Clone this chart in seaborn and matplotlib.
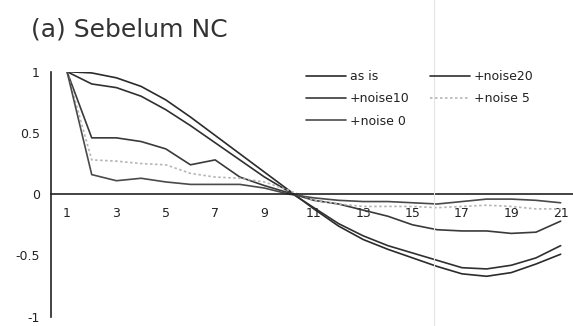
import numpy as np
import pandas as pd
import seaborn as sns
import matplotlib.pyplot as plt
from matplotlib.lines import Line2D
from matplotlib.ticker import FixedLocator

# lag index and the five curves
lags = list(range(1, 22))
as_is = [1.00, 0.99, 0.95, 0.88, 0.77, 0.63, 0.48, 0.33, 0.18, 0.03, -0.12,
         -0.26, -0.37, -0.45, -0.52, -0.59, -0.65, -0.67, -0.64, -0.57, -0.49]
noise20 = [1.00, 0.90, 0.87, 0.80, 0.69, 0.56, 0.42, 0.28, 0.14, 0.02, -0.11,
           -0.24, -0.34, -0.42, -0.48, -0.54, -0.60, -0.61, -0.58, -0.52, -0.42]
noise10 = [1.00, 0.46, 0.46, 0.43, 0.37, 0.24, 0.28, 0.14, 0.07, 0.01, -0.05,
           -0.08, -0.13, -0.18, -0.25, -0.29, -0.30, -0.30, -0.32, -0.31, -0.22]
noise5 = [1.00, 0.28, 0.27, 0.25, 0.24, 0.17, 0.14, 0.13, 0.10, 0.03, -0.05,
          -0.08, -0.10, -0.10, -0.10, -0.11, -0.10, -0.09, -0.10, -0.12, -0.12]
noise0 = [1.00, 0.16, 0.11, 0.13, 0.10, 0.08, 0.08, 0.08, 0.05, 0.00, -0.03,
          -0.05, -0.06, -0.06, -0.07, -0.08, -0.06, -0.04, -0.04, -0.05, -0.07]

names = ["as is", "+noise20", "+noise10", "+noise 5", "+noise 0"]
series = [as_is, noise20, noise10, noise5, noise0]

# long format for seaborn
df = pd.concat([pd.DataFrame({"lag": lags, "r": vals, "series": nm})
                for nm, vals in zip(names, series)], ignore_index=True)

sns.set_style("white")
plt.rcParams["font.family"] = ["DejaVu Sans"]

colors = {"as is": "#2b2b2b", "+noise20": "#303030", "+noise10": "#3a3a3a",
          "+noise 5": "#b5b5b5", "+noise 0": "#4a4a4a"}
dashes = {"as is": "", "+noise20": "", "+noise10": "", "+noise 5": (1.5, 1.5),
          "+noise 0": ""}

fig = plt.figure(figsize=(5.73, 3.26), dpi=100)
ax = fig.add_axes([51 / 573, 9.3 / 326, 1 - 51 / 573, (316.7 - 71.7) / 326])

# faint vertical streak from the scanned page
fig.add_artist(Line2D([434 / 573, 434 / 573], [0, 1], color="#e4e4e4", lw=0.8))

sns.lineplot(data=df, x="lag", y="r", hue="series", style="series",
             palette=colors, dashes=dashes, linewidth=1.2, legend=False, ax=ax)

ax.set_xlim(0.35, 21.5)
ax.set_ylim(-1, 1)
ax.set_xlabel("")
ax.set_ylabel("")
ax.patch.set_alpha(0)

# axis look: left spine, x axis running through zero
for s in ["top", "right"]:
    ax.spines[s].set_visible(False)
ax.spines["left"].set_color("#222222")
ax.spines["left"].set_linewidth(1.2)
ax.spines["bottom"].set_position(("data", 0))
ax.spines["bottom"].set_color("#222222")
ax.spines["bottom"].set_linewidth(1.2)

ax.set_yticks([-1, -0.5, 0, 0.5, 1])
ax.set_yticklabels(["-1", "-0.5", "0", "0.5", "1"])
ax.tick_params(axis="y", direction="out", length=4, width=1.2, color="#222222",
               labelsize=9, labelcolor="#222222", pad=4)

ax.set_xticks(lags[::2])
ax.xaxis.set_minor_locator(FixedLocator(np.arange(1.5, 21, 1)))
ax.tick_params(axis="x", which="major", length=0, labelsize=9,
               labelcolor="#222222", pad=9)
ax.tick_params(axis="x", which="minor", direction="out", length=4, width=1.2,
               color="#222222")

# legend, two columns like the original
handles = [Line2D([], [], color=colors[n], lw=1.2,
                  dashes=dashes[n] if dashes[n] else (None, None)) for n in names]
order = [0, 2, 4, 1, 3]
fig.legend([handles[i] for i in order], [names[i] for i in order],
           loc="upper left", bbox_to_anchor=(0.515, 0.82), ncol=2,
           frameon=False, fontsize=9, handlelength=3.2, handletextpad=0.3,
           columnspacing=1.6, labelspacing=0.75, labelcolor="#222222")

fig.text(31 / 573, 1 - 30 / 326, "(a) Sebelum NC", fontsize=18,
         color="#333333", va="center", ha="left")

fig.savefig("out.png", dpi=100)
